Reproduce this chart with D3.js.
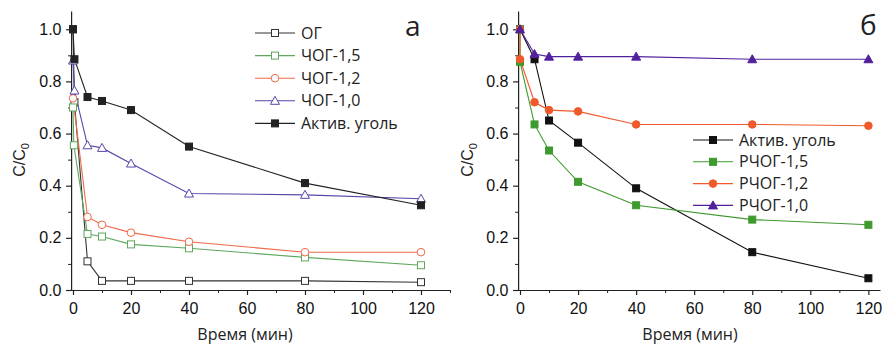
<!DOCTYPE html>
<html><head><meta charset="utf-8">
<script src="https://cdn.jsdelivr.net/npm/d3@7"></script>
<style>body{margin:0;background:#fff}svg{display:block}</style>
</head><body><svg id="c" width="883" height="345"></svg>
<script>
// ---- data (time in min, C/C0) ----
const leftNames = ["ОГ","ЧОГ-1,5","ЧОГ-1,2","ЧОГ-1,0","Актив. уголь"];
const og      = [[0,1.0],[0.5,0.72],[5,0.11],[10,0.035],[20,0.035],[40,0.035],[80,0.035],[120,0.03]];
const chog15  = [[0,0.70],[0.3,0.555],[5,0.215],[10,0.205],[20,0.175],[40,0.16],[80,0.125],[120,0.095]];
const chog12  = [[0,0.735],[5,0.28],[10,0.25],[20,0.22],[40,0.185],[80,0.145],[120,0.145]];
const chog10  = [[0,0.88],[0.5,0.765],[5,0.555],[10,0.545],[20,0.485],[40,0.37],[80,0.365],[120,0.35]];
const aktivL  = [[0,1.0],[0.5,0.885],[5,0.74],[10,0.725],[20,0.69],[40,0.55],[80,0.41],[120,0.325]];

const rightNames = ["Актив. уголь","РЧОГ-1,5","РЧОГ-1,2","РЧОГ-1,0"];
const aktivR  = [[0,1.0],[5,0.885],[10,0.65],[20,0.565],[40,0.39],[80,0.145],[120,0.045]];
const rchog15 = [[0,1.0],[0,0.875],[5,0.635],[10,0.535],[20,0.415],[40,0.325],[80,0.27],[120,0.25]];
const rchog12 = [[0,1.0],[0,0.885],[5,0.72],[10,0.69],[20,0.685],[40,0.635],[80,0.635],[120,0.63]];
const rchog10 = [[0,1.0],[5,0.905],[10,0.895],[20,0.895],[40,0.895],[80,0.885],[120,0.885]];

const yTicks = [0,0.2,0.4,0.6,0.8,1.0];
const xTicks = [0,20,40,60,80,100,120];

const svg = d3.select("#c");

function panel(cfg){
  const x = d3.scaleLinear().domain(cfg.xdom).range(cfg.xr);
  const y = d3.scaleLinear().domain([0,1.07]).range([290,11]);
  const g = svg.append("g");
  // minor ticks
  const xMinor = d3.range(10, cfg.xdom[1]+0.01, 20);
  const yMinor = [0.1,0.3,0.5,0.7,0.9];
  g.append("g").attr("transform",`translate(0,${y(0)})`)
    .call(d3.axisBottom(x).tickValues(xMinor).tickSize(3).tickFormat(""))
    .call(a=>a.select(".domain").remove());
  g.append("g").attr("transform",`translate(${x(cfg.xdom[0])+1},0)`)
    .call(d3.axisLeft(y).tickValues(yMinor).tickSize(3).tickFormat(""))
    .call(a=>a.select(".domain").remove());
  const xa = g.append("g").attr("transform",`translate(0,${y(0)})`)
    .call(d3.axisBottom(x).tickValues(xTicks.filter(v=>v<=cfg.xdom[1])).tickSize(5).tickSizeOuter(0).tickFormat(d3.format("d")));
  const ya = g.append("g").attr("transform",`translate(${x(cfg.xdom[0])+1},0)`)
    .call(d3.axisLeft(y).tickValues(yTicks).tickSize(5).tickSizeOuter(0).tickFormat(d3.format(".1f")));
  [xa,ya].forEach(a=>{
    a.selectAll("text").attr("font-family","Liberation Sans, Arial, sans-serif").attr("font-size",16).attr("fill","#111");
    a.selectAll("line,path").attr("stroke","#222").attr("stroke-width",1.2);
  });
  xa.selectAll("text").attr("dy","1.0em");
  ya.selectAll("text").attr("dx","-0.1em");
  g.selectAll(".tick line").attr("stroke","#222");

  // axis labels
  g.append("text").attr("x",cfg.xlabX).attr("y",340).attr("text-anchor","middle")
    .attr("font-family","Open Sans, sans-serif").attr("font-size",16).attr("fill","#222").text("Время (мин)");
  const yl = g.append("text").attr("transform",`translate(${cfg.ylabX},160) rotate(-90)`)
    .attr("text-anchor","middle").attr("font-family","Liberation Sans, Arial, sans-serif").attr("font-size",16).attr("fill","#222");
  yl.append("tspan").text("C/C");
  yl.append("tspan").attr("font-size",11).attr("dy",4).text("0");

  const line = d3.line().x(d=>x(d[0])).y(d=>y(d[1]));
  cfg.series.forEach(s=>{
    g.append("path").datum(s.data).attr("d",line).attr("fill","none")
      .attr("stroke",s.color).attr("stroke-width",1.1);
  });
  function marker(sel, s, cx, cy){
    const fill = s.filled ? s.color : "#fff";
    if(s.shape==="square"){
      sel.append("rect").attr("x",cx-3.5).attr("y",cy-3.5).attr("width",7).attr("height",7)
        .attr("fill",fill).attr("stroke",s.color).attr("stroke-width",1);
    } else if(s.shape==="circle"){
      sel.append("circle").attr("cx",cx).attr("cy",cy).attr("r",3.8)
        .attr("fill",fill).attr("stroke",s.color).attr("stroke-width",1);
    } else {
      sel.append("path").attr("d",`M${cx},${cy-4.5}L${cx+4.5},${cy+3.5}L${cx-4.5},${cy+3.5}Z`)
        .attr("fill",fill).attr("stroke",s.color).attr("stroke-width",1);
    }
  }
  cfg.series.forEach(s=>{
    s.data.forEach(d=>marker(g, s, x(d[0]), y(d[1])));
  });
  // legend
  const lg = g.append("g");
  cfg.series.forEach((s,i)=>{
    const yy = cfg.legY + i*cfg.legDy;
    lg.append("line").attr("x1",cfg.legX).attr("x2",cfg.legX+40).attr("y1",yy).attr("y2",yy)
      .attr("stroke",s.color).attr("stroke-width",1.1);
    marker(lg, Object.assign({}, s), cfg.legX+20, yy);
    lg.append("text").attr("x",cfg.legX+46).attr("y",yy).attr("dy","0.35em")
      .attr("font-family","Open Sans, sans-serif").attr("font-size",16).attr("fill","#222").text(s.name);
  });
  g.append("text").attr("x",cfg.tagX).attr("y",cfg.tagY).attr("font-family","Open Sans, sans-serif")
    .attr("font-size",28).attr("fill","#222").text(cfg.tag);
}

panel({
  xdom:[-1,130], xr:[70.1,450], xlabX:245, ylabX:25,
  legX:255, legY:33, legDy:22.6, tagX:405, tagY:36, tag:"а",
  series:[
    {name:leftNames[0], data:og, color:"#333", shape:"square", filled:false},
    {name:leftNames[1], data:chog15, color:"#5ea85e", shape:"square", filled:false},
    {name:leftNames[2], data:chog12, color:"#ee6a48", shape:"circle", filled:false},
    {name:leftNames[3], data:chog10, color:"#5a44a8", shape:"tri", filled:false},
    {name:leftNames[4], data:aktivL, color:"#222", shape:"square", filled:true}
  ]
});
panel({
  xdom:[-1,124], xr:[517.1,880], xlabX:690, ylabX:473,
  legX:693, legY:140, legDy:21.8, tagX:860, tagY:35, tag:"б",
  series:[
    {name:rightNames[0], data:aktivR, color:"#111", shape:"square", filled:true},
    {name:rightNames[1], data:rchog15, color:"#3e9a2e", shape:"square", filled:true},
    {name:rightNames[2], data:rchog12, color:"#f05a2a", shape:"circle", filled:true},
    {name:rightNames[3], data:rchog10, color:"#52209c", shape:"tri", filled:true}
  ]
});
</script></body></html>
